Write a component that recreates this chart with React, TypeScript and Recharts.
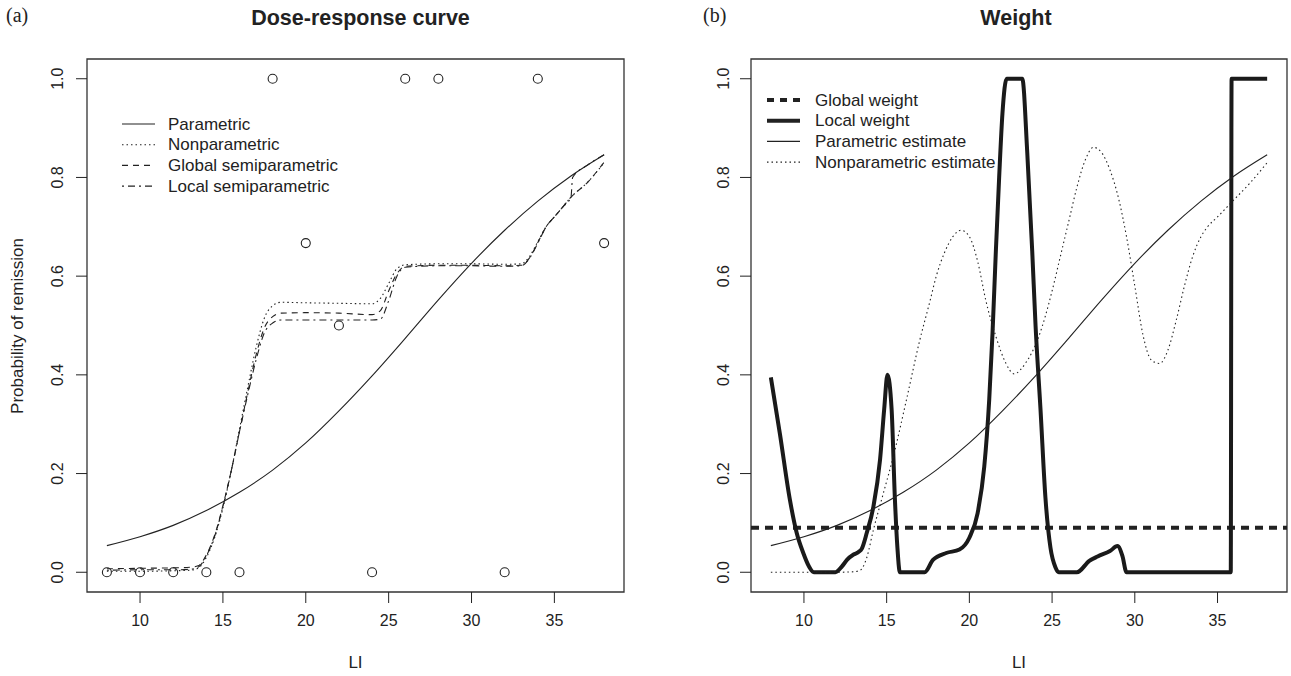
import {
  ComposedChart,
  Line,
  Scatter,
  XAxis,
  YAxis,
  ReferenceArea,
  ReferenceLine,
  Legend,
} from "recharts";

// ---- data ----
const liTicks = [10, 15, 20, 25, 30, 35];
const probTicks = [0, 0.2, 0.4, 0.6, 0.8, 1.0];

const obsLI = [8, 10, 12, 14, 16, 18, 20, 22, 24, 26, 28, 32, 34, 38];
const obsRemission = [0, 0, 0, 0, 0, 1, 0.667, 0.5, 0, 1, 1, 0, 1, 0.667];

const parametric: [number, number][] = [
  [8, 0.054], [10, 0.072], [12, 0.095], [14, 0.125], [16, 0.162], [18, 0.207],
  [20, 0.262], [22, 0.327], [24, 0.398], [26, 0.474], [28, 0.552], [30, 0.626],
  [32, 0.693], [34, 0.752], [36, 0.803], [38, 0.846],
];

const nonparametric: [number, number][] = [
  [8, 0.002], [10, 0.002], [12, 0.003], [13, 0.004], [13.5, 0.008], [14, 0.03],
  [14.5, 0.07], [15, 0.13], [15.5, 0.205], [16, 0.29], [16.5, 0.375], [17, 0.455],
  [17.5, 0.515], [18, 0.54], [18.5, 0.547], [20, 0.546], [22, 0.545], [24, 0.544],
  [24.5, 0.555], [25, 0.585], [25.5, 0.615], [26, 0.623], [28, 0.625], [30, 0.625],
  [32, 0.624], [33, 0.625], [33.5, 0.64], [34, 0.67], [34.5, 0.7], [35, 0.72],
  [35.5, 0.74], [36, 0.76], [37, 0.79], [38, 0.83],
];

const globalSemi: [number, number][] = [
  [8, 0.007], [10, 0.008], [12, 0.009], [13, 0.01], [13.5, 0.013], [14, 0.035],
  [14.5, 0.075], [15, 0.135], [15.5, 0.205], [16, 0.285], [16.5, 0.365], [17, 0.44],
  [17.5, 0.495], [18, 0.518], [18.5, 0.525], [20, 0.526], [22, 0.525], [24, 0.522],
  [24.5, 0.53], [25, 0.57], [25.5, 0.605], [26, 0.62], [28, 0.622], [30, 0.622],
  [32, 0.621], [33, 0.622], [33.5, 0.637], [34, 0.668], [34.5, 0.7], [35, 0.72],
  [35.5, 0.74], [36, 0.76], [37, 0.79], [38, 0.831],
];

const localSemi: [number, number][] = [
  [8, 0.004], [10, 0.005], [12, 0.005], [13, 0.006], [13.5, 0.01], [14, 0.033],
  [14.5, 0.073], [15, 0.133], [15.5, 0.205], [16, 0.285], [16.5, 0.36], [17, 0.43],
  [17.5, 0.485], [18, 0.505], [18.5, 0.511], [20, 0.511], [22, 0.511], [24, 0.511],
  [24.5, 0.513], [25, 0.55], [25.5, 0.6], [26, 0.618], [28, 0.621], [30, 0.621],
  [32, 0.62], [33, 0.621], [33.5, 0.636], [34, 0.667], [34.5, 0.7], [35, 0.72],
  [35.5, 0.74], [36, 0.76], [36.1, 0.8], [37, 0.825], [38, 0.846],
];

const globalWeight = 0.09;

const localWeight: [number, number][] = [
  [8, 0.395], [8.55, 0.28], [9.15, 0.147], [9.56, 0.08], [9.96, 0.039], [10.3, 0.012],
  [10.6, 0], [11.9, 0], [12.3, 0.012], [12.6, 0.025], [13, 0.036], [13.3, 0.041],
  [13.5, 0.048], [13.8, 0.08], [14.2, 0.133], [14.6, 0.228], [14.85, 0.33], [15.05, 0.4],
  [15.3, 0.33], [15.5, 0.147], [15.65, 0.05], [15.8, 0], [17.3, 0], [17.8, 0.025],
  [18.6, 0.039], [19.4, 0.046], [20, 0.07], [20.5, 0.12], [20.9, 0.214], [21.2, 0.35],
  [21.4, 0.485], [21.6, 0.65], [21.8, 0.8], [22, 0.93], [22.25, 1], [23.2, 1],
  [23.5, 0.85], [23.8, 0.65], [24, 0.5], [24.3, 0.33], [24.6, 0.15], [24.9, 0.05],
  [25.2, 0.01], [25.4, 0], [26.5, 0], [27.25, 0.023], [27.75, 0.032], [28.5, 0.043],
  [28.95, 0.053], [29.25, 0.033], [29.5, 0], [35.8, 0], [35.85, 1], [38, 1],
];

const nonparEstimate: [number, number][] = [
  [8, 0], [10, 0], [12, 0], [13, 0.001], [13.4, 0.004], [13.8, 0.03], [14.2, 0.086],
  [14.8, 0.16], [15.4, 0.234], [16.2, 0.35], [17, 0.47], [17.6, 0.547], [18, 0.6],
  [18.5, 0.648], [19, 0.68], [19.5, 0.693], [20, 0.68], [20.5, 0.63], [21, 0.55],
  [21.6, 0.478], [22.2, 0.424], [22.7, 0.402], [23.4, 0.424], [24.2, 0.478],
  [24.6, 0.52], [25, 0.57], [25.5, 0.64], [26, 0.71], [26.5, 0.78], [27, 0.835],
  [27.5, 0.861], [28, 0.85], [28.5, 0.815], [29, 0.76], [29.5, 0.68], [30, 0.58],
  [30.5, 0.48], [31, 0.43], [31.5, 0.423], [32, 0.45], [32.5, 0.51], [33, 0.58],
  [33.5, 0.64], [34, 0.68], [34.4, 0.7], [35, 0.72], [36, 0.755], [37, 0.79], [38, 0.83],
];

// ---- helpers ----
const sans = '"Liberation Sans", Arial, Helvetica, sans-serif';
const ink = "#222";
const xDomain = [6.8, 39.2];
const yDomain = [-0.04, 1.04];

const toPts = (arr: [number, number][]) => arr.map(([x, y]) => ({ x, y }));
const obsPts = obsLI.map((x, i) => ({ x, y: obsRemission[i] }));

function XTick({ x, y, payload }: any) {
  return (
    <text x={x} y={y + 21} textAnchor="middle" fontSize={16} fontFamily={sans} fill={ink}>
      {payload.value}
    </text>
  );
}

const makeYTick = (shift: number) =>
  function YTick({ x, y, payload }: any) {
    const bx = x - shift;
    return (
      <text
        x={bx}
        y={y}
        transform={`rotate(-90, ${bx}, ${y})`}
        textAnchor="middle"
        fontSize={16}
        fontFamily={sans}
        fill={ink}
      >
        {Number(payload.value).toFixed(1)}
      </text>
    );
  };

type LegendRow = { label: string; width: number; dash?: string };

function makeLegend(rows: LegendRow[], textX: number) {
  return () => (
    <svg width={280} height={90} style={{ display: "block" }}>
      {rows.map((r, i) => {
        const cy = 12 + i * 20.7;
        return (
          <g key={r.label}>
            <line x1={7} x2={40} y1={cy} y2={cy} stroke={ink} strokeWidth={r.width} strokeDasharray={r.dash} />
            <text x={textX} y={cy} dominantBaseline="central" fontSize={17} fontFamily={sans} fill={ink}>
              {r.label}
            </text>
          </g>
        );
      })}
    </svg>
  );
}

const leftLegend = makeLegend(
  [
    { label: "Parametric", width: 1.1 },
    { label: "Nonparametric", width: 1.1, dash: "1.5 3" },
    { label: "Global semiparametric", width: 1.1, dash: "6 5" },
    { label: "Local semiparametric", width: 1.1, dash: "2 4 7 4" },
  ],
  53
);

const rightLegend = makeLegend(
  [
    { label: "Global weight", width: 4, dash: "7 6" },
    { label: "Local weight", width: 4 },
    { label: "Parametric estimate", width: 1.1 },
    { label: "Nonparametric estimate", width: 1.1, dash: "1.5 3" },
  ],
  55
);

function CircleShape(p: any) {
  return <circle cx={p.cx} cy={p.cy} r={4.5} fill="none" stroke={ink} strokeWidth={1.1} />;
}

const boxArea = (
  <ReferenceArea
    x1={xDomain[0]}
    x2={xDomain[1]}
    y1={yDomain[0]}
    y2={yDomain[1]}
    fill="none"
    stroke="#333"
    strokeWidth={1.3}
    ifOverflow="visible"
  />
);

const xLabel = {
  value: "LI",
  content: (p: any) => {
    const vb = p.viewBox;
    return (
      <text x={vb.x + vb.width / 2} y={668} textAnchor="middle" fontSize={17} fontFamily={sans} fill={ink}>
        LI
      </text>
    );
  },
};

const titleStyle = {
  position: "absolute" as const,
  top: 6,
  textAlign: "center" as const,
  fontFamily: sans,
  fontWeight: 700,
  fontSize: 21.5,
  lineHeight: "24px",
  color: ink,
};

const letterStyle = {
  position: "absolute" as const,
  top: 3,
  font: '20px "Liberation Serif", "Times New Roman", serif',
  lineHeight: "24px",
  color: ink,
};

export default function App() {
  return (
    <div style={{ position: "absolute", left: 0, top: 0, width: 1291, height: 676, background: "#fff" }}>
      {/* panel letters and titles */}
      <div style={{ ...letterStyle, left: 6 }}>(a)</div>
      <div style={{ ...letterStyle, left: 703 }}>(b)</div>
      <div style={{ ...titleStyle, left: 92, width: 537 }}>Dose-response curve</div>
      <div style={{ ...titleStyle, left: 748, width: 536 }}>Weight</div>

      {/* (a) Dose-response curve */}
      <div style={{ position: "absolute", left: 0, top: 0 }}>
        <ComposedChart width={645} height={676} margin={{ top: 59, right: 21, bottom: 0, left: 0 }}>
          <XAxis
            dataKey="x"
            type="number"
            domain={xDomain}
            allowDataOverflow
            ticks={liTicks}
            tick={<XTick />}
            tickSize={11}
            tickLine={{ stroke: ink }}
            axisLine={false}
            height={84}
            label={xLabel}
          />
          <YAxis
            type="number"
            domain={yDomain}
            allowDataOverflow
            ticks={probTicks}
            tick={makeYTick(11)}
            tickSize={11}
            tickLine={{ stroke: ink }}
            axisLine={false}
            width={87}
            label={{
              value: "Probability of remission",
              content: () => (
                <text x={23} y={326} transform="rotate(-90, 23, 326)" textAnchor="middle" fontSize={17} fontFamily={sans} fill={ink}>
                  Probability of remission
                </text>
              ),
            }}
          />
          {boxArea}
          <Line data={toPts(parametric)} dataKey="y" type="monotone" stroke={ink} strokeWidth={1.1} dot={false} activeDot={false} isAnimationActive={false} />
          <Line data={toPts(nonparametric)} dataKey="y" type="monotone" stroke={ink} strokeWidth={1.1} strokeDasharray="1.5 3" dot={false} activeDot={false} isAnimationActive={false} />
          <Line data={toPts(globalSemi)} dataKey="y" type="monotone" stroke={ink} strokeWidth={1.1} strokeDasharray="6 5" dot={false} activeDot={false} isAnimationActive={false} />
          <Line data={toPts(localSemi)} dataKey="y" type="monotone" stroke={ink} strokeWidth={1.1} strokeDasharray="2 4 7 4" dot={false} activeDot={false} isAnimationActive={false} />
          <Scatter data={obsPts} dataKey="y" shape={CircleShape} isAnimationActive={false} />
          <Legend
            layout="vertical"
            align="center"
            verticalAlign="middle"
            content={leftLegend}
            wrapperStyle={{ left: 115, top: 112, width: 280, height: 90 }}
          />
        </ComposedChart>
      </div>

      {/* (b) Weight */}
      <div style={{ position: "absolute", left: 645, top: 0 }}>
        <ComposedChart width={646} height={676} margin={{ top: 59, right: 4, bottom: 0, left: 0 }}>
          <XAxis
            dataKey="x"
            type="number"
            domain={xDomain}
            allowDataOverflow
            ticks={liTicks}
            tick={<XTick />}
            tickSize={11}
            tickLine={{ stroke: ink }}
            axisLine={false}
            height={84}
            label={xLabel}
          />
          <YAxis
            type="number"
            domain={yDomain}
            allowDataOverflow
            ticks={probTicks}
            tick={makeYTick(9)}
            tickSize={11}
            tickLine={{ stroke: ink }}
            axisLine={false}
            width={106}
          />
          {boxArea}
          <ReferenceLine y={globalWeight} stroke={ink} strokeWidth={4} strokeDasharray="8 6" ifOverflow="visible" />
          <Line data={toPts(localWeight)} dataKey="y" type="monotone" stroke="#1a1a1a" strokeWidth={4} dot={false} activeDot={false} isAnimationActive={false} />
          <Line data={toPts(parametric)} dataKey="y" type="monotone" stroke={ink} strokeWidth={1.1} dot={false} activeDot={false} isAnimationActive={false} />
          <Line data={toPts(nonparEstimate)} dataKey="y" type="monotone" stroke={ink} strokeWidth={1.1} strokeDasharray="1.5 3" dot={false} activeDot={false} isAnimationActive={false} />
          <Legend
            layout="vertical"
            align="center"
            verticalAlign="middle"
            content={rightLegend}
            wrapperStyle={{ left: 115, top: 88, width: 280, height: 90 }}
          />
        </ComposedChart>
      </div>
    </div>
  );
}
